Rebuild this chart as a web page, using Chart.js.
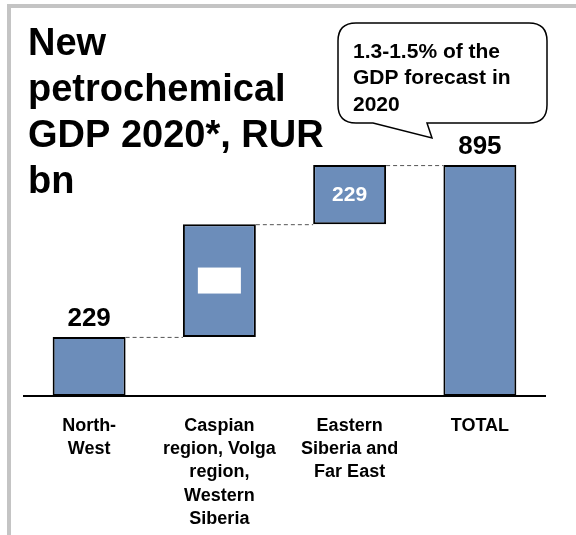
<!DOCTYPE html>
<html>
<head>
<meta charset="utf-8">
<script src="https://cdn.jsdelivr.net/npm/chart.js@4/dist/chart.umd.min.js"></script>
<style>
  html, body { margin: 0; padding: 0; background: #fff; }
  #wrap { width: 576px; height: 535px; }
</style>
</head>
<body>
<div id="wrap"><canvas id="c" width="576" height="535"></canvas></div>
<script>
// Regional contributions to new petrochemical GDP in 2020, RUR bn
const categories = [
  ['North-', 'West'],
  ['Caspian', 'region, Volga', 'region,', 'Western', 'Siberia'],
  ['Eastern', 'Siberia and', 'Far East'],
  ['TOTAL']
];
const increments = [229, 437, 229];
const total = 895;
const titleLines = ['New', 'petrochemical', 'GDP 2020*, RUR', 'bn'];
const calloutLines = ['1.3-1.5% of the', 'GDP forecast in', '2020'];

// Build floating [start, end] ranges for the waterfall
const ranges = [];
let run = 0;
increments.forEach(v => { ranges.push([run, run + v]); run += v; });
ranges.push([0, total]);
const values = increments.concat([total]);

const FONT = '"Liberation Sans", Arial, sans-serif';
const BAR = '#6C8DBA';

const decorPlugin = {
  id: 'decor',
  beforeDraw(chart) {
    const ctx = chart.ctx;
    ctx.save();
    ctx.fillStyle = '#fff';
    ctx.fillRect(0, 0, chart.width, chart.height);
    // frame
    ctx.fillStyle = '#C4C4C4';
    ctx.fillRect(7, 4, chart.width - 7, 4);
    ctx.fillRect(7, 4, 4, chart.height - 4);
    ctx.restore();
  },
  afterDatasetsDraw(chart) {
    const ctx = chart.ctx;
    const meta = chart.getDatasetMeta(0);
    const y = chart.scales.y;
    ctx.save();
    // dashed connectors between consecutive bars
    ctx.strokeStyle = '#555';
    ctx.lineWidth = 1;
    ctx.setLineDash([4, 3]);
    for (let i = 0; i < meta.data.length - 1; i++) {
      const a = meta.data[i], b = meta.data[i + 1];
      const level = y.getPixelForValue(ranges[i][1]);
      ctx.beginPath();
      ctx.moveTo(a.x + a.width / 2, level + 0.5);
      ctx.lineTo(b.x - b.width / 2, level + 0.5);
      ctx.stroke();
    }
    ctx.setLineDash([]);

    // value labels
    ctx.textAlign = 'center';
    ctx.textBaseline = 'alphabetic';
    ctx.fillStyle = '#000';
    ctx.font = 'bold 26px ' + FONT;
    // first bar and total: above the bar
    [0, 3].forEach(i => {
      const el = meta.data[i];
      ctx.fillText(String(values[i]), el.x, el.y - 11);
    });
    ctx.textBaseline = 'middle';
    ctx.font = 'bold 21px ' + FONT;
    // eastern: inside, white
    let el = meta.data[2];
    const midE = (y.getPixelForValue(ranges[2][0]) + y.getPixelForValue(ranges[2][1])) / 2;
    ctx.fillStyle = '#fff';
    ctx.fillText(String(values[2]), el.x, midE + 1);
    // caspian: label on a white background box
    el = meta.data[1];
    const midC = (y.getPixelForValue(ranges[1][0]) + y.getPixelForValue(ranges[1][1])) / 2;
    const w = ctx.measureText(String(values[1])).width + 8;
    ctx.fillStyle = '#fff';
    ctx.fillRect(el.x - w / 2, midC - 13, w, 26);
    ctx.fillText(String(values[1]), el.x, midC + 1);

    // title
    ctx.textAlign = 'left';
    ctx.textBaseline = 'alphabetic';
    ctx.fillStyle = '#000';
    ctx.font = 'bold 38px ' + FONT;
    titleLines.forEach((t, i) => ctx.fillText(t, 28, 55 + i * 46));

    // callout bubble
    const L = 338, T = 23, R = 547, B = 123, r = 18;
    ctx.beginPath();
    ctx.moveTo(L + r, T);
    ctx.lineTo(R - r, T);
    ctx.quadraticCurveTo(R, T, R, T + r);
    ctx.lineTo(R, B - r);
    ctx.quadraticCurveTo(R, B, R - r, B);
    ctx.lineTo(427, B);
    ctx.lineTo(432, 138);
    ctx.lineTo(373, B);
    ctx.lineTo(L + r, B);
    ctx.quadraticCurveTo(L, B, L, B - r);
    ctx.lineTo(L, T + r);
    ctx.quadraticCurveTo(L, T, L + r, T);
    ctx.closePath();
    ctx.fillStyle = '#fff';
    ctx.fill();
    ctx.strokeStyle = '#000';
    ctx.lineWidth = 1.5;
    ctx.stroke();
    ctx.fillStyle = '#000';
    ctx.font = 'bold 21px ' + FONT;
    calloutLines.forEach((t, i) => ctx.fillText(t, 353, 57.5 + i * 26.5));
    ctx.restore();
  }
};

new Chart(document.getElementById('c'), {
  type: 'bar',
  data: {
    labels: categories,
    datasets: [{
      data: ranges,
      backgroundColor: BAR,
      borderColor: '#000',
      borderWidth: 2,
      borderSkipped: false,
      barPercentage: 1,
      categoryPercentage: 0.56
    }]
  },
  options: {
    responsive: false,
    animation: false,
    devicePixelRatio: 1,
    layout: { padding: { left: 24, right: 31, top: 138, bottom: 0 } },
    plugins: { legend: { display: false }, tooltip: { enabled: false }, title: { display: false } },
    scales: {
      x: {
        grid: { display: false },
        border: { display: true, color: '#000', width: 2 },
        ticks: {
          color: '#000',
          font: { family: FONT, size: 18, weight: 'bold', lineHeight: 1.3 },
          padding: 10,
          maxRotation: 0,
          autoSkip: false
        },
        afterFit(scale) { scale.height = 139; }
      },
      y: {
        display: false,
        min: 0,
        max: 1000
      }
    }
  },
  plugins: [decorPlugin]
});
</script>
</body>
</html>
